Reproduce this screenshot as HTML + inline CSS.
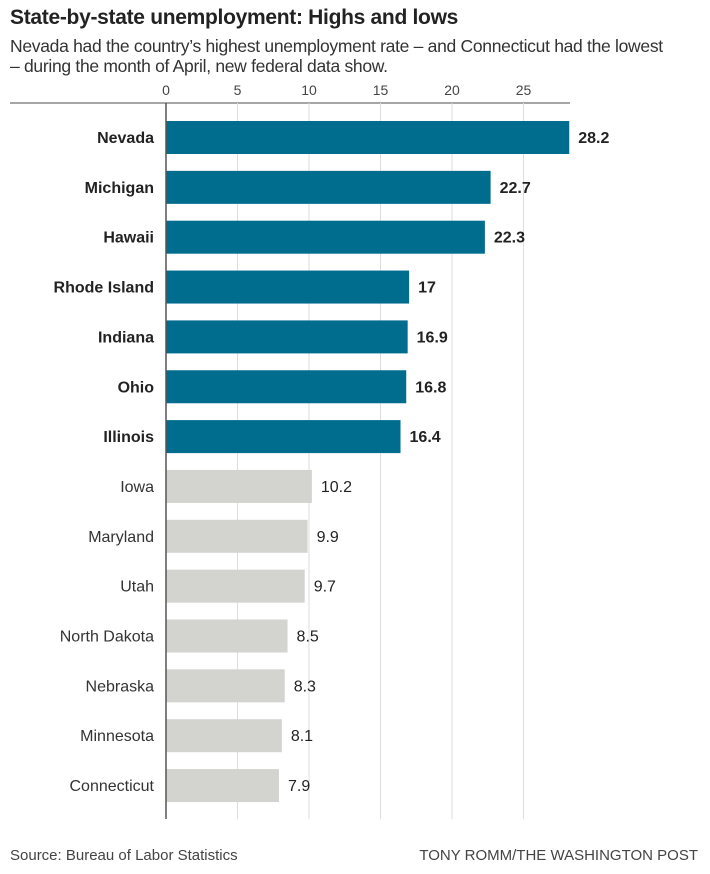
<!DOCTYPE html>
<html><head><meta charset="utf-8"><style>
body{margin:0;background:#fff;width:710px;height:874px;overflow:hidden;font-family:"Liberation Sans Narrow","Liberation Sans",sans-serif;color:#222}
#title{position:absolute;left:10px;top:6px;font-size:21px;font-weight:bold;color:#222;white-space:nowrap;letter-spacing:-0.3px}
#sub{position:absolute;left:10px;top:36px;font-size:17.5px;line-height:20px;color:#333;width:700px;letter-spacing:-0.3px;white-space:nowrap}
#src{position:absolute;left:10px;top:847px;font-size:15px;color:#444}
#credit{position:absolute;right:12px;top:847px;font-size:15px;color:#444}
</style></head><body>
<div id="title">State-by-state unemployment: Highs and lows</div>
<div id="sub">Nevada had the country’s highest unemployment rate – and Connecticut had the lowest<br>– during the month of April, new federal data show.</div>
<svg id="chart" width="710" height="874" style="position:absolute;left:0;top:0"></svg>
<div id="src">Source: Bureau of Labor Statistics</div>
<div id="credit">TONY ROMM/THE WASHINGTON POST</div>
<script>
const states=["Nevada","Michigan","Hawaii","Rhode Island","Indiana","Ohio","Illinois","Iowa","Maryland","Utah","North Dakota","Nebraska","Minnesota","Connecticut"];
const rates=[28.2,22.7,22.3,17,16.9,16.8,16.4,10.2,9.9,9.7,8.5,8.3,8.1,7.9];
const highlighted=[true,true,true,true,true,true,true,false,false,false,false,false,false,false];
const ticks=[0,5,10,15,20,25];
const NS="http://www.w3.org/2000/svg";
const svg=document.getElementById('chart');
const xs=v=>166+v*14.3;
const ys=i=>121+i*49.85;
function mk(t,a){const e=document.createElementNS(NS,t);for(const k in a)e.setAttribute(k,a[k]);svg.appendChild(e);return e;}
const topRule=mk('line',{x1:10,x2:570,y1:103,y2:103,stroke:'#888','stroke-width':1.5});


ticks.forEach(t=>{
 if(t>0){const g=mk('line',{x1:xs(t),x2:xs(t),y1:103,y2:819,stroke:'#ddd','stroke-width':1});
 
 }
 const tl=mk('text',{x:xs(t),y:95,'text-anchor':'middle','font-size':14,fill:'#444'});
 tl.textContent=t;
 
 
});
states.forEach((s,i)=>{
 const hi=highlighted[i];
 const b=mk('rect',{x:xs(0),y:ys(i),width:xs(rates[i])-xs(0),height:33,fill:hi?'#006d8f':'#d3d3cf'});
 
 
 const l=mk('text',{x:154,y:ys(i)+22,'text-anchor':'end','font-size':16,'font-weight':hi?'bold':'normal',fill:hi?'#222':'#333'});
 l.textContent=s;
 
 
 const v=mk('text',{x:xs(rates[i])+9,y:ys(i)+22,'font-size':16,'font-weight':hi?'bold':'normal',fill:'#222'});
 v.textContent=rates[i];
 
 
});
const ax=mk('line',{x1:xs(0),x2:xs(0),y1:103,y2:819,stroke:'#555','stroke-width':1.5});


</script>
</body></html>
